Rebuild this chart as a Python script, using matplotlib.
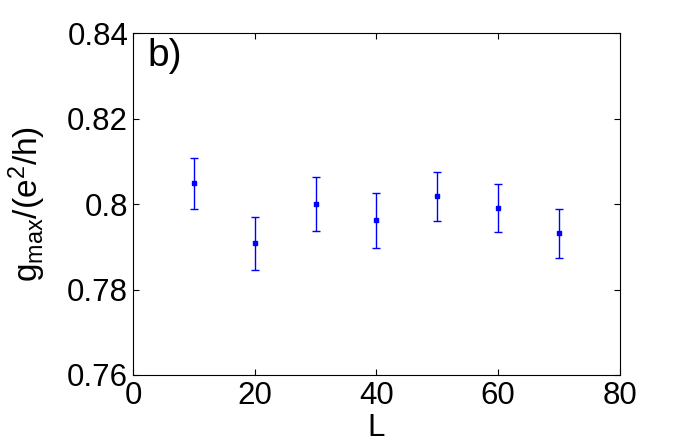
import numpy as np
import matplotlib
matplotlib.use('Agg')
import matplotlib.pyplot as plt

plt.rcParams['font.family'] = ['Liberation Sans', 'DejaVu Sans']
plt.rcParams['mathtext.fontset'] = 'custom'
plt.rcParams['mathtext.rm'] = 'Liberation Sans'
plt.rcParams['mathtext.it'] = 'Liberation Sans'

# data
L = [10, 20, 30, 40, 50, 60, 70]
g_max = [0.8048, 0.7908, 0.7999, 0.7962, 0.8018, 0.7990, 0.7931]
g_err = [0.0060, 0.0062, 0.0063, 0.0064, 0.0058, 0.0056, 0.0058]

fig = plt.figure(figsize=(6.85, 4.43), dpi=100)
ax = fig.add_axes([0.1942, 0.1535, 0.7108, 0.772])

ax.errorbar(L, g_max, yerr=g_err, fmt='s', color='blue', ms=3.5,
            mec='blue', elinewidth=1.0, capsize=3, capthick=1.0)

ax.set_xlim(0, 80)
ax.set_ylim(0.76, 0.84)
ax.set_xticks([0, 20, 40, 60, 80])
ax.set_yticks([0.76, 0.78, 0.8, 0.82, 0.84])
ax.set_yticklabels(['0.76', '0.78', '0.8', '0.82', '0.84'])
ax.tick_params(direction='in', length=4, width=0.8, labelsize=22.5,
               top=True, right=True)
ax.tick_params(axis='y', pad=3.5)
ax.tick_params(axis='x', pad=4)
for s in ax.spines.values():
    s.set_linewidth(0.8)

ax.set_xlabel('L', fontsize=22.5, labelpad=1.5)
ax.set_ylabel(r'$\mathregular{g_{max}/(e^2/h)}$', fontsize=24, labelpad=14)
ax.text(0.03, 0.985, 'b)', transform=ax.transAxes, fontsize=28,
        va='top', ha='left')

fig.savefig('out.png', dpi=100)
